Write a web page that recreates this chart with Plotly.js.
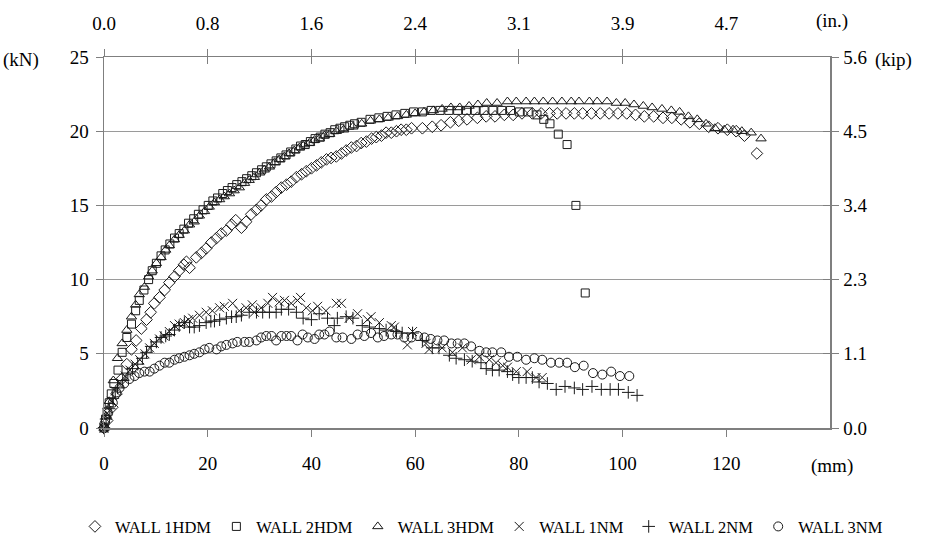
<!DOCTYPE html>
<html>
<head>
<meta charset="utf-8">
<script src="https://cdn.plot.ly/plotly-3.0.1.min.js"></script>
<style>html,body{margin:0;padding:0;background:#fff;}#chart{width:931px;height:540px;}</style>
</head>
<body>
<div id="chart"></div>
<script>
// ---- data (displacement in mm, load in kN) ----
const wall1hdmX = [0,0.6,1.6,2.4,3.4,4.4,5.3,6.2,7.2,8.2,9.0,9.7,10.7,11.7,12.6,13.6,14.5,15.4,15.9,16.5,17.8,18.8,19.7,20.7,21.7,22.6,23.6,24.6,25.4,26.5,27.4,28.4,29.4,30.3,31.3,32.3,33.2,34.2,35.2,36.1,37.1,38.1,39.0,40.0,41.0,41.9,42.9,43.8,44.8,45.8,46.7,47.7,48.7,49.6,50.6,51.6,52.5,53.5,54.4,55.4,56.4,57.3,58.3,59.3,61.4,63.3,65.0,66.8,68.4,70.0,72.0,73.7,75.4,77.2,78.9,80.6,82.6,84.3,85.9,87.4,89.1,90.7,92.3,94.0,95.7,97.4,99.1,100.8,102.5,104.2,106.0,107.8,109.5,111.3,113.0,114.8,116.6,118.4,120.2,121.9,123.5,125.9];
const wall1hdmY = [0,0.5,1.4,2.3,3.3,4.3,5.3,5.9,6.7,7.3,7.8,8.4,8.8,9.3,9.8,10.2,10.6,11.0,11.2,10.8,11.5,11.8,12.1,12.5,12.8,13.1,13.3,13.7,14.0,13.5,13.9,14.4,14.7,15.0,15.4,15.6,15.9,16.2,16.4,16.6,16.9,17.1,17.3,17.5,17.7,17.9,18.1,18.2,18.3,18.5,18.7,18.9,19.0,19.2,19.3,19.5,19.6,19.7,19.9,19.9,20.0,20.1,20.1,20.2,20.2,20.3,20.4,20.6,20.7,20.8,20.9,21.0,21.0,21.1,21.1,21.2,21.2,21.2,21.2,21.2,21.2,21.2,21.2,21.2,21.2,21.2,21.2,21.2,21.1,21.0,21.0,20.9,20.9,20.8,20.6,20.5,20.3,20.2,20.1,20.0,19.7,18.5];

const wall2hdmX = [0,0.3,0.6,1.0,1.4,1.9,2.7,3.5,4.4,5.3,6.1,6.8,7.7,8.6,9.3,10.1,11.0,11.8,12.7,13.6,14.5,15.4,16.3,17.3,18.2,19.1,20.1,21.0,21.9,22.9,23.8,24.7,25.6,26.6,27.5,28.5,29.4,30.4,31.3,32.2,33.2,34.1,35.1,36.0,37.0,37.9,38.8,39.8,40.7,41.7,42.6,43.6,44.5,45.5,46.4,47.4,48.3,49.6,51.3,53.0,54.6,56.3,58.0,59.7,61.4,63.1,64.8,66.5,68.2,69.9,71.6,73.3,75.0,76.7,78.4,80.1,81.8,83.5,84.8,86.0,87.6,89.3,91.0,92.8];
const wall2hdmY = [0,0.6,1.1,1.7,2.3,3.0,3.9,5.1,6.1,7.0,7.9,8.6,9.3,10.0,10.6,11.1,11.6,12.0,12.4,12.8,13.1,13.4,13.8,14.1,14.4,14.7,15.0,15.3,15.5,15.8,16.0,16.2,16.4,16.6,16.8,17.0,17.2,17.4,17.6,17.8,18.0,18.2,18.4,18.6,18.8,19.0,19.1,19.3,19.5,19.6,19.8,19.9,20.1,20.2,20.3,20.4,20.5,20.6,20.8,20.9,21.0,21.1,21.2,21.3,21.3,21.4,21.4,21.4,21.4,21.4,21.4,21.4,21.4,21.4,21.4,21.3,21.3,21.1,20.8,20.5,19.8,19.1,15.0,9.1];

const wall3hdmX = [0,0.4,1.0,1.8,2.6,3.5,4.4,5.3,6.1,6.8,7.8,8.6,9.3,10.1,11.0,11.9,12.6,13.6,14.5,15.5,16.5,17.4,18.4,19.4,20.3,21.3,22.3,23.2,24.2,25.1,26.1,27.1,28.0,29.0,30.0,30.9,31.9,32.9,33.8,34.8,35.7,36.7,37.7,38.6,39.6,40.6,41.5,42.5,43.5,44.8,46.2,48.0,49.7,51.4,53.1,54.8,56.6,58.3,60.0,61.7,63.5,65.2,66.9,68.6,70.4,72.1,73.8,75.8,77.8,79.5,81.4,83.0,84.7,86.5,88.3,90.1,91.6,93.6,95.1,97.0,98.8,100.5,102.2,104.0,105.7,107.6,109.4,111.0,112.7,114.4,116.1,117.8,119.6,121.3,123.0,124.8,126.7];
const wall3hdmY = [0,0.8,1.8,3.2,4.7,5.7,6.6,7.5,8.3,9.0,9.5,10.2,10.6,11.1,11.5,12.0,12.3,12.7,13.0,13.3,13.7,13.9,14.3,14.6,14.9,15.2,15.4,15.6,15.8,16.0,16.2,16.5,16.7,16.9,17.2,17.4,17.6,17.9,18.1,18.3,18.5,18.7,18.9,19.1,19.2,19.4,19.5,19.7,19.8,20.0,20.1,20.3,20.5,20.7,20.8,20.9,21.0,21.1,21.2,21.3,21.4,21.5,21.6,21.6,21.7,21.8,21.9,21.9,22.0,22.0,22.0,22.0,22.0,22.0,22.0,22.0,22.0,22.0,22.0,22.0,21.9,21.9,21.8,21.7,21.6,21.5,21.4,21.3,21.0,20.8,20.5,20.2,20.1,20.1,20.0,19.9,19.5];

const wall1nmX = [0,0.6,1.4,2.2,3.1,4.1,5.0,6.0,6.9,7.9,8.8,9.7,10.7,11.6,12.6,13.6,14.5,15.5,16.3,17.1,18.4,19.7,20.9,22.3,23.2,24.8,26.1,27.4,28.6,29.0,30.3,31.6,32.5,33.8,34.8,36.1,37.3,37.9,39.0,40.2,41.2,42.8,44.8,45.8,47.3,48.9,50.8,51.5,53.1,55.4,56.0,58.5,59.5,62.1,62.7,65.2,67.2,69.1,70.8,72.4,74.3,75.6,76.9,77.8,79.5,81.6,83.3,84.5];
const wall1nmY = [0,1.0,1.8,2.5,3.0,3.5,3.9,4.3,4.6,5.0,5.4,5.7,6.0,6.2,6.5,6.9,7.0,7.1,7.3,7.4,7.6,7.8,7.9,8.1,8.2,8.4,7.9,8.1,8.3,7.8,8.1,8.4,8.8,8.5,8.6,8.4,8.6,8.8,8.1,7.9,8.2,7.9,8.4,8.4,7.4,7.7,7.3,7.5,7.1,6.9,6.8,5.6,6.5,5.7,5.3,5.4,5.1,5.4,4.6,4.8,4.6,4.4,4.2,4.1,3.8,3.8,3.4,3.4];

const wall2nmX = [0,0.4,1.0,1.7,2.6,3.6,4.6,5.5,6.5,7.4,8.2,9.1,10.1,11.0,11.9,12.6,13.6,14.5,15.5,16.5,17.4,18.4,19.7,20.6,21.3,22.3,23.6,24.6,25.5,26.5,28.0,29.4,30.6,31.9,33.2,34.2,35.6,37.1,38.4,40.0,41.5,43.1,44.4,45.0,46.7,48.0,49.8,51.2,53.1,54.4,56.4,57.5,59.5,61.4,63.3,64.6,66.6,67.9,69.5,71.0,72.7,73.7,74.9,76.2,77.8,78.8,80.0,81.4,82.6,83.9,85.5,87.2,88.9,90.7,92.3,94.1,95.9,97.6,99.2,101.1,102.8];
const wall2nmY = [0,0.6,1.3,2.0,2.7,3.2,3.7,4.0,4.3,4.7,5.1,5.5,5.8,6.1,6.2,6.3,6.6,6.9,7.1,6.8,6.8,6.9,7.1,7.2,7.2,7.3,7.4,7.5,7.5,7.6,7.8,7.8,7.8,7.8,7.8,8.0,8.0,7.8,7.4,7.3,7.7,7.4,6.9,7.4,7.5,7.4,6.9,6.8,6.7,6.6,6.5,6.4,6.4,5.9,5.4,5.4,4.9,4.7,4.6,4.5,4.4,4.0,3.9,3.9,3.8,3.6,3.4,3.4,3.4,3.1,3.0,2.6,2.8,2.7,2.6,2.8,2.6,2.6,2.6,2.4,2.2];

const wall3nmX = [0,0.1,0.8,1.7,2.4,3.0,3.9,4.9,5.9,6.8,7.8,8.8,9.7,10.7,11.7,12.6,13.6,14.5,15.5,16.5,17.4,18.4,19.4,20.3,21.7,22.6,23.6,24.8,25.7,27.1,28.0,29.4,30.3,31.3,32.3,33.2,34.2,35.2,36.1,37.3,38.3,39.3,40.6,41.5,42.5,43.5,44.8,46.0,47.7,48.9,50.2,51.5,52.8,54.0,55.4,56.6,57.9,59.3,60.5,61.8,63.0,64.3,65.6,67.0,68.2,69.5,70.8,72.4,73.7,74.9,76.6,78.1,79.7,81.4,83.0,84.5,86.2,87.8,89.3,90.8,92.5,94.3,96.1,97.8,99.5,101.3];
const wall3nmY = [0,0.3,1.0,1.7,2.4,2.7,3.0,3.3,3.5,3.7,3.8,3.8,4.0,4.2,4.4,4.4,4.6,4.7,4.8,4.9,5.0,5.1,5.3,5.4,5.3,5.5,5.6,5.7,5.8,5.8,5.8,5.9,6.1,6.2,6.2,5.9,6.2,6.2,6.2,5.9,6.3,6.1,6.0,6.3,6.3,6.5,6.1,6.1,6.0,6.3,6.2,6.4,6.1,6.2,6.3,6.3,6.1,6.1,6.2,6.1,6.0,5.9,5.9,5.7,5.7,5.7,5.5,5.2,5.1,5.1,5.1,4.8,4.8,4.6,4.7,4.6,4.4,4.4,4.4,4.1,4.2,3.7,3.6,3.8,3.5,3.5];

// ---- tick labels ----
const mmTicks = [0,20,40,60,80,100,120];
const inchLabels = ['0.0','0.8','1.6','2.4','3.1','3.9','4.7'];
const kNTicks = [0,5,10,15,20,25];
const kipLabels = ['0.0','1.1','2.3','3.4','4.5','5.6'];

const FONT = 'Liberation Serif, Times New Roman, serif';
const INK = '#1a1a1a';
const AXC = '#7f7f7f';

function series(name, x, y, symbol, size, xa, ya) {
  return {
    type: 'scatter', mode: 'markers', name: name, x: x, y: y,
    xaxis: xa, yaxis: ya,
    marker: {symbol: symbol, size: size, color: INK, line: {color: INK, width: 1}},
    cliponaxis: false
  };
}

// WALL 1HDM is plotted on the (identical) top/right axis pair, WALL 2HDM on the
// inside-tick overlay pair, so those axes are drawn; all ranges are the same.
const traces = [
  series('WALL 1HDM', wall1hdmX, wall1hdmY, 'diamond-open', 9, 'x2', 'y2'),
  series('WALL 2HDM', wall2hdmX, wall2hdmY, 'square-open', 8, 'x3', 'y3'),
  series('WALL 3HDM', wall3hdmX, wall3hdmY, 'triangle-up-open', 9, 'x', 'y'),
  series('WALL 1NM', wall1nmX, wall1nmY, 'x-thin-open', 9, 'x', 'y'),
  series('WALL 2NM', wall2nmX, wall2nmY, 'cross-thin-open', 9, 'x', 'y'),
  series('WALL 3NM', wall3nmX, wall3nmY, 'circle-open', 9, 'x', 'y')
];

const tickFont = {family: FONT, size: 19, color: '#000'};
const layout = {
  width: 931, height: 540,
  margin: {l: 104, r: 101, t: 57, b: 112, pad: 0, autoexpand: false},
  paper_bgcolor: '#fff', plot_bgcolor: '#fff',
  showlegend: true,
  legend: {orientation: 'h', xref: 'paper', yref: 'paper', x: -0.04, xanchor: 'left', y: -0.266, yanchor: 'middle',
           font: {family: FONT, size: 16.5, color: '#000'}, itemsizing: 'trace', itemwidth: 30,
           tracegroupgap: 0, traceorder: 'normal'},
  xaxis: {range: [0, 140], tickvals: mmTicks, ticks: 'outside', ticklen: 7, tickcolor: AXC,
          showline: true, linecolor: AXC, linewidth: 1.5, showgrid: false, zeroline: false,
          tickfont: tickFont, ticklabelstandoff: 11},
  xaxis2: {range: [0, 140], overlaying: 'x', side: 'top', anchor: 'y2', tickvals: mmTicks, ticktext: inchLabels,
           ticks: 'outside', ticklen: 7, tickcolor: AXC, showline: true, linecolor: AXC, linewidth: 1.5,
           showgrid: false, zeroline: false, tickfont: tickFont, ticklabelstandoff: 11},
  xaxis3: {range: [0, 140], overlaying: 'x', side: 'top', anchor: 'y3', tickvals: mmTicks,
           ticks: 'inside', ticklen: 7, tickcolor: AXC, showticklabels: false, showline: false,
           showgrid: false, zeroline: false},
  yaxis: {range: [0, 25], tickvals: kNTicks, ticks: 'outside', ticklen: 7, tickcolor: AXC,
          showline: true, linecolor: AXC, linewidth: 1.5, showgrid: true, gridcolor: '#9a9a9a', gridwidth: 1,
          zeroline: false, tickfont: tickFont, ticklabelstandoff: 3},
  yaxis2: {range: [0, 25], overlaying: 'y', side: 'right', anchor: 'x2', tickvals: kNTicks, ticktext: kipLabels,
           ticks: 'outside', ticklen: 7, tickcolor: AXC, showline: true, linecolor: AXC, linewidth: 1.5,
           showgrid: false, zeroline: false, tickfont: tickFont, ticklabelstandoff: 1},
  yaxis3: {range: [0, 25], overlaying: 'y', side: 'right', anchor: 'x3', tickvals: kNTicks,
           ticks: 'inside', ticklen: 7, tickcolor: AXC, showticklabels: false, showline: false,
           showgrid: false, zeroline: false},
  annotations: [
    {text: '(kN)', xref: 'paper', yref: 'paper', x: -0.114, y: 0.992, showarrow: false, font: tickFont, xanchor: 'center', yanchor: 'middle'},
    {text: '(kip)', xref: 'paper', yref: 'paper', x: 1.088, y: 0.992, showarrow: false, font: tickFont, xanchor: 'center', yanchor: 'middle'},
    {text: '(in.)', xref: 'paper', yref: 'paper', x: 1.003, y: 1.097, showarrow: false, font: tickFont, xanchor: 'center', yanchor: 'middle'},
    {text: '(mm)', xref: 'paper', yref: 'paper', x: 1.003, y: -0.102, showarrow: false, font: tickFont, xanchor: 'center', yanchor: 'middle'}
  ]
};

Plotly.newPlot('chart', traces, layout, {displayModeBar: false, staticPlot: true});
</script>
</body>
</html>
